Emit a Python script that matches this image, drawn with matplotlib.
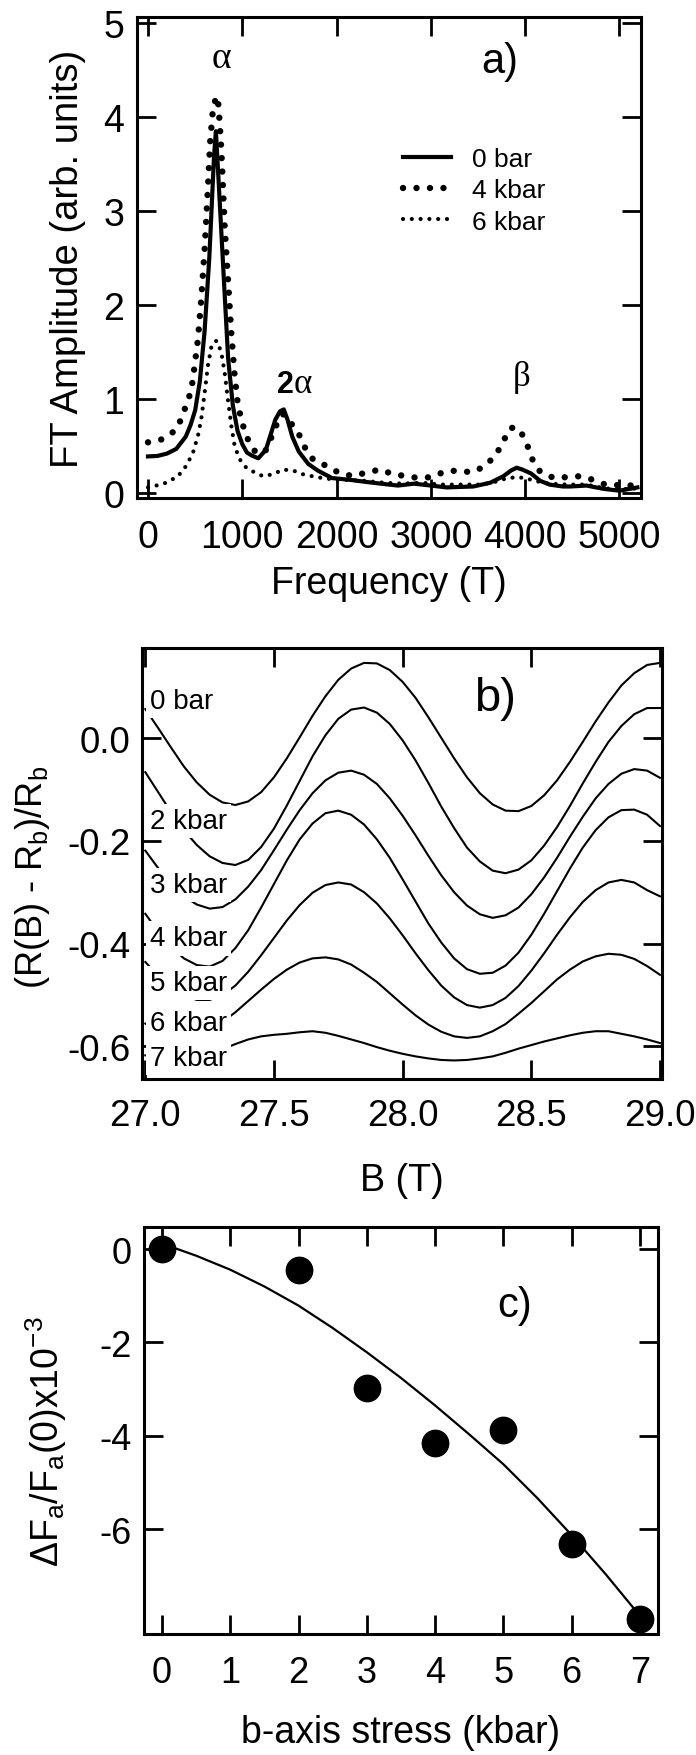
import numpy as np
import matplotlib.pyplot as plt
from matplotlib.ticker import FormatStrFormatter

plt.rcParams['font.family'] = ['Liberation Sans', 'DejaVu Sans']
plt.rcParams['axes.unicode_minus'] = False
plt.rcParams['mathtext.fontset'] = 'custom'
plt.rcParams['mathtext.rm'] = 'Liberation Sans'

serif = ['Liberation Serif', 'DejaVu Serif']

# a) FT amplitude spectra
freq_0bar = [0, 100, 200, 300, 400, 450, 500, 550, 600, 650, 700, 720, 750, 800, 850, 900,
             950, 1000, 1050, 1100, 1170, 1250, 1300, 1350, 1400, 1440, 1480, 1530, 1600,
             1700, 1800, 1950, 2150, 2300, 2470, 2650, 2820, 3000, 3170, 3300, 3450, 3630,
             3770, 3850, 3910, 3970, 4060, 4160, 4260, 4400, 4480, 4650, 4830, 5000, 5190]
amp_0bar = [0.39, 0.395, 0.42, 0.47, 0.60, 0.72, 0.88, 1.19, 1.72, 2.50, 3.58, 3.85, 3.30,
            2.36, 1.43, 0.93, 0.66, 0.52, 0.43, 0.40, 0.37, 0.46, 0.62, 0.78, 0.87, 0.89,
            0.78, 0.60, 0.44, 0.31, 0.24, 0.16, 0.14, 0.12, 0.10, 0.08, 0.10, 0.08, 0.06,
            0.065, 0.07, 0.11, 0.18, 0.24, 0.27, 0.25, 0.21, 0.13, 0.09, 0.07, 0.07, 0.08,
            0.045, 0.025, 0.06]

freq_4kbar = [0, 141, 283, 350, 406, 459, 495, 530, 565, 601, 636, 660, 690, 720, 740, 760,
              777, 795, 813, 848, 883, 919, 954, 1007, 1060, 1131, 1200, 1237, 1325, 1396,
              1440, 1519, 1590, 1661, 1749, 1890, 2036, 2177, 2319, 2460, 2602, 2743, 2867,
              3008, 3150, 3291, 3432, 3563, 3687, 3768, 3839, 3900, 3956, 4026, 4076, 4157,
              4305, 4447, 4588, 4723, 4864, 5005, 5147]
amp_4kbar = [0.54, 0.57, 0.66, 0.78, 0.94, 1.09, 1.36, 1.64, 2.07, 2.60, 3.26, 3.75, 4.10,
             4.20, 4.22, 3.94, 3.66, 3.27, 2.84, 2.28, 1.71, 1.25, 0.93, 0.72, 0.57, 0.45,
             0.42, 0.43, 0.63, 0.81, 0.84, 0.74, 0.65, 0.49, 0.36, 0.29, 0.21, 0.18, 0.22,
             0.25, 0.20, 0.18, 0.16, 0.17, 0.23, 0.24, 0.22, 0.28, 0.40, 0.55, 0.69, 0.70,
             0.65, 0.50, 0.36, 0.23, 0.16, 0.17, 0.18, 0.14, 0.085, 0.085, 0.08]

freq_6kbar = [0, 88, 194, 318, 406, 477, 530, 565, 601, 636, 671, 700, 730, 777, 813, 848,
              883, 919, 972, 1042, 1131, 1219, 1325, 1431, 1537, 1643, 1784, 1926, 2100,
              2300, 2500, 2700, 2900, 3100, 3300, 3500, 3650, 3780, 3900, 4000, 4100, 4250,
              4450, 4650, 4850, 5000, 5190]
amp_6kbar = [0.06, 0.08, 0.11, 0.18, 0.29, 0.43, 0.61, 0.79, 1.07, 1.36, 1.55, 1.61, 1.62,
             1.50, 1.28, 0.99, 0.72, 0.50, 0.36, 0.27, 0.22, 0.18, 0.20, 0.25, 0.24, 0.20,
             0.17, 0.15, 0.14, 0.13, 0.11, 0.10, 0.11, 0.09, 0.09, 0.09, 0.11, 0.15, 0.17,
             0.16, 0.13, 0.10, 0.09, 0.09, 0.05, 0.04, 0.05]

# b) resistance oscillations
field = np.linspace(27.0, 29.0, 41)
r_0bar = [0.057, 0.020, -0.018, -0.055, -0.086, -0.110, -0.125, -0.130, -0.123, -0.105,
          -0.076, -0.039, 0.002, 0.044, 0.082, 0.114, 0.136, 0.147, 0.146, 0.133, 0.110,
          0.079, 0.041, 0.001, -0.039, -0.076, -0.107, -0.129, -0.141, -0.142, -0.132,
          -0.111, -0.082, -0.046, -0.007, 0.033, 0.070, 0.103, 0.127, 0.143, 0.147]
r_2kbar = [-0.066, -0.105, -0.144, -0.179, -0.208, -0.230, -0.243, -0.247, -0.237, -0.212,
           -0.176, -0.131, -0.083, -0.035, 0.006, 0.038, 0.056, 0.060, 0.050, 0.028, -0.004,
           -0.043, -0.087, -0.133, -0.175, -0.213, -0.240, -0.258, -0.263, -0.256, -0.238,
           -0.209, -0.173, -0.132, -0.088, -0.046, -0.007, 0.024, 0.047, 0.059, 0.059]
r_3kbar = [-0.219, -0.253, -0.284, -0.308, -0.324, -0.332, -0.329, -0.314, -0.289, -0.257,
           -0.218, -0.178, -0.140, -0.107, -0.082, -0.067, -0.063, -0.071, -0.089, -0.117,
           -0.151, -0.189, -0.229, -0.267, -0.300, -0.326, -0.343, -0.350, -0.345, -0.330,
           -0.304, -0.271, -0.233, -0.192, -0.153, -0.117, -0.089, -0.069, -0.060, -0.063,
           -0.077]
r_4kbar = [-0.342, -0.377, -0.407, -0.429, -0.442, -0.445, -0.434, -0.409, -0.374, -0.330,
           -0.284, -0.238, -0.197, -0.166, -0.146, -0.141, -0.149, -0.168, -0.197, -0.233,
           -0.275, -0.318, -0.361, -0.398, -0.429, -0.450, -0.459, -0.457, -0.443, -0.418,
           -0.383, -0.342, -0.298, -0.254, -0.213, -0.179, -0.154, -0.140, -0.139, -0.149,
           -0.171]
r_5kbar = [-0.436, -0.463, -0.485, -0.501, -0.510, -0.510, -0.501, -0.482, -0.455, -0.423,
           -0.389, -0.355, -0.325, -0.301, -0.286, -0.281, -0.285, -0.300, -0.322, -0.351,
           -0.384, -0.419, -0.452, -0.482, -0.505, -0.520, -0.525, -0.520, -0.506, -0.483,
           -0.453, -0.419, -0.383, -0.349, -0.319, -0.296, -0.281, -0.276, -0.281, -0.296,
           -0.308]
r_6kbar = [-0.556, -0.574, -0.582, -0.584, -0.579, -0.569, -0.553, -0.534, -0.512, -0.490,
           -0.469, -0.451, -0.437, -0.429, -0.427, -0.431, -0.441, -0.457, -0.475, -0.497,
           -0.519, -0.540, -0.558, -0.572, -0.581, -0.584, -0.581, -0.571, -0.557, -0.537,
           -0.516, -0.493, -0.470, -0.451, -0.435, -0.425, -0.420, -0.422, -0.430, -0.444,
           -0.461]
r_7kbar = [-0.618, -0.622, -0.624, -0.622, -0.618, -0.612, -0.606, -0.596, -0.587, -0.581,
           -0.578, -0.576, -0.573, -0.571, -0.574, -0.580, -0.587, -0.594, -0.602, -0.609,
           -0.615, -0.620, -0.624, -0.627, -0.628, -0.627, -0.624, -0.620, -0.613, -0.605,
           -0.598, -0.591, -0.585, -0.579, -0.574, -0.571, -0.571, -0.576, -0.581, -0.587,
           -0.594]
osc_labels = ['0 bar', '2 kbar', '3 kbar', '4 kbar', '5 kbar', '6 kbar', '7 kbar']
label_y = [0.073, -0.161, -0.286, -0.390, -0.477, -0.555, -0.623]

# c) frequency shift vs stress
stress = [0, 2, 3, 4, 5, 6, 7]
dF = [0.0, -0.45, -2.98, -4.16, -3.88, -6.33, -7.92]
fit_x = [0, 0.5, 1, 1.5, 2, 2.5, 3, 3.5, 4, 4.5, 5, 5.5, 6, 6.5, 7]
fit_y = [0.12, -0.14, -0.44, -0.80, -1.21, -1.69, -2.21, -2.76, -3.35, -3.97, -4.61,
         -5.34, -6.13, -6.97, -7.86]


def frame(ax, size, padx, pady):
    for s in ax.spines.values():
        s.set_linewidth(2.2)
    ax.tick_params(which='both', direction='in', top=True, right=True,
                   length=13.5, width=2, labelsize=size)
    ax.tick_params(axis='x', pad=padx)
    ax.tick_params(axis='y', pad=pady)


fig = plt.figure(figsize=(6.96, 17.56), dpi=100)

# panel a
ax1 = fig.add_axes([0.1968, 0.7158, 0.7241, 0.2739])
l6, = ax1.plot(freq_6kbar, amp_6kbar, color='k', lw=3.0, linestyle=(0, (0.01, 2.1)),
               dash_capstyle='round', label='6 kbar')
l4, = ax1.plot(freq_4kbar, amp_4kbar, color='k', lw=4.6, linestyle=(0, (0.01, 2.1)),
               dash_capstyle='round', label='4 kbar')
l0, = ax1.plot(freq_0bar, amp_0bar, color='k', lw=3, label='0 bar')
ax1.set_xlim(-117, 5228)
ax1.set_ylim(-0.053, 5.064)
ax1.set_xticks([0, 1000, 2000, 3000, 4000, 5000])
ax1.set_yticks([0, 1, 2, 3, 4, 5])
frame(ax1, 27, 15, 9)
ax1.set_xlabel('Frequency (T)', fontsize=27, va='center')
ax1.xaxis.set_label_coords(0.5, -0.177)
ax1.set_ylabel('FT Amplitude (arb. units)', fontsize=27.5, va='center')
ax1.yaxis.set_label_coords(-0.137, 0.5)
ax1.legend(handles=[l0, l4, l6], loc='upper left', bbox_to_anchor=(0.528, 0.73),
           frameon=False, fontsize=19, handlelength=1.8, handletextpad=0.8,
           labelspacing=0.28, borderpad=0, borderaxespad=0)
ax1.text(777, 4.53, 'α', family=serif, fontsize=27, ha='center', va='baseline')
ax1.text(1548, 1.078, '2', fontsize=22, fontweight='bold', ha='right', va='baseline')
ax1.text(1548, 1.078, 'α', family=serif, fontsize=25, ha='left', va='baseline')
ax1.text(3960, 1.15, 'β', family=serif, fontsize=25, ha='center', va='baseline')
ax1.text(3729, 4.6, 'a)', fontsize=30, ha='center', va='center')

# panel b
ax2 = fig.add_axes([0.2036, 0.3850, 0.7476, 0.2454])
for r in [r_0bar, r_2kbar, r_3kbar, r_4kbar, r_5kbar, r_6kbar, r_7kbar]:
    ax2.plot(field, r, color='k', lw=1.5)
for y, lab in zip(label_y, osc_labels):
    ax2.text(27.018, y, lab, fontsize=20, ha='left', va='center',
             bbox=dict(boxstyle='square,pad=0.15', fc='white', ec='none'))
ax2.set_xlim(26.986, 29.008)
ax2.set_ylim(-0.664, 0.176)
ax2.set_xticks([27.0, 27.5, 28.0, 28.5, 29.0])
ax2.set_yticks([0.0, -0.2, -0.4, -0.6])
ax2.xaxis.set_major_formatter(FormatStrFormatter('%.1f'))
ax2.yaxis.set_major_formatter(FormatStrFormatter('%.1f'))
frame(ax2, 26.5, 14, 8)
ax2.set_xlabel('B (T)', fontsize=27, va='center')
ax2.xaxis.set_label_coords(0.5, -0.234)
ax2.set_ylabel(r'(R(B) - R$_{\mathregular{b}}$)/R$_{\mathregular{b}}$', fontsize=26, va='center')
ax2.yaxis.set_label_coords(-0.209, 0.47)
ax2.text(28.36, 0.079, 'b)', fontsize=34, ha='center', va='center')

# panel c
ax3 = fig.add_axes([0.2073, 0.0689, 0.7376, 0.2319])
ax3.plot(fit_x, fit_y, color='k', lw=1.6)
ax3.plot(stress, dF, 'o', color='k', ms=19)
ax3.set_xlim(-0.26, 7.26)
ax3.set_ylim(-8.25, 0.48)
ax3.set_xticks(range(8))
ax3.set_yticks([0, -2, -4, -6])
frame(ax3, 26, 15, 9)
ax3.set_xlabel('b-axis stress (kbar)', fontsize=27, va='center')
ax3.xaxis.set_label_coords(0.5, -0.241)
ax3.set_ylabel(r'ΔF$_{\mathregular{a}}$/F$_{\mathregular{a}}$(0)x10$^{\mathregular{-3}}$',
               fontsize=27, va='center')
ax3.yaxis.set_label_coords(-0.191, 0.476)
ax3.text(5.17, -1.2, 'c)', fontsize=30, ha='center', va='center')

fig.savefig('out.png', dpi=100)
